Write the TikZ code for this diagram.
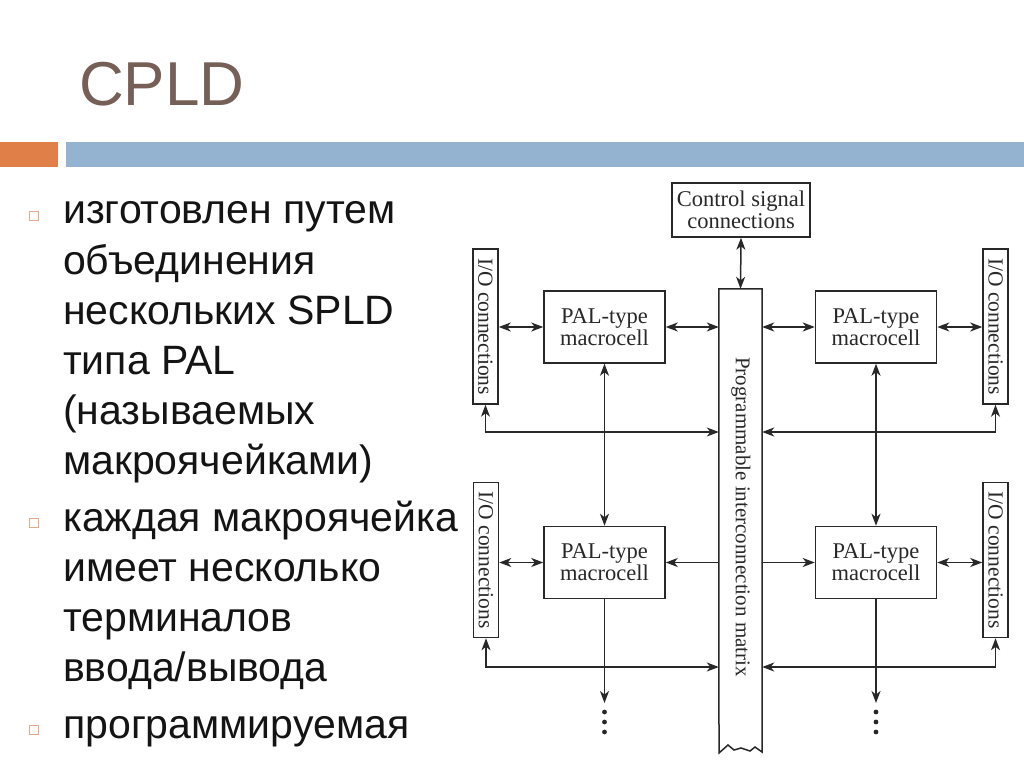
\documentclass[tikz,border=0pt]{standalone}
\usepackage{fontspec}
\setmainfont{Liberation Serif}
\newfontfamily\sansf{Liberation Sans}
\usetikzlibrary{arrows.meta}
\definecolor{titlecol}{RGB}{118,95,87}
\definecolor{barblue}{RGB}{148,179,209}
\definecolor{barorange}{RGB}{224,128,72}
\definecolor{bulletcol}{RGB}{230,170,135}
\definecolor{linecol}{RGB}{40,40,40}
\definecolor{textcol}{RGB}{20,20,20}
\tikzset{
  diag/.style={draw=linecol, line width=1.5pt, fill=white, inner sep=0pt, font=\fontsize{22.5}{25}\selectfont, text=linecol},
  palbox/.style={diag, minimum width=121pt, minimum height=72pt, align=center},
  iobox/.style={diag, minimum width=25pt, minimum height=155pt, font=\fontsize{21.5}{24}\selectfont},
  conn/.style={draw=linecol, line width=1.5pt, >={Stealth[length=12pt,width=9pt,inset=3.5pt]}},
  bul/.style={draw=bulletcol, line width=0.9pt, fill=white, minimum size=9pt, inner sep=0pt},
  btxt/.style={anchor=base west, inner sep=0pt, text=textcol, font=\sansf\fontsize{41}{48}\selectfont}
}
\begin{document}
\begin{tikzpicture}[x=1pt,y=-1pt]
\useasboundingbox (0,0) rectangle (1024,767);
\fill[white] (0,0) rectangle (1024,767);
% header
\node[anchor=base west, inner sep=0pt, text=titlecol, font=\sansf\fontsize{62}{66}\selectfont] (title) at (79,106) {CPLD};
\fill[barorange] (0,142) rectangle (58,167);
\fill[barblue] (66,142) rectangle (1024,167);
% bullets
\node[bul] (b1) at (34,216) {};
\node[bul] (b2) at (34,523) {};
\node[bul] (b3) at (34,730) {};
\node[btxt] (l1) at (63,224) {изготовлен путем};
\node[btxt] (l2) at (63,274) {объединения};
\node[btxt] (l3) at (63,324) {нескольких SPLD};
\node[btxt] (l4) at (63,374) {типа PAL};
\node[btxt] (l5) at (63,424) {(называемых};
\node[btxt] (l6) at (63,474) {макроячейками)};
\node[btxt] (l7) at (63,531) {каждая макроячейка};
\node[btxt] (l8) at (63,581) {имеет несколько};
\node[btxt] (l9) at (63,631) {терминалов};
\node[btxt] (l10) at (63,681) {ввода/вывода};
\node[btxt] (l11) at (63,738) {программируемая};
% diagram nodes
\node[diag, minimum width=138pt, minimum height=54pt, align=center] (ctrl) at (741,210) {Control signal\\[-3pt]connections};
\node[draw=none, inner sep=0pt, minimum width=43pt, minimum height=464pt] (mat) at (740.5,521) {};
\node[rotate=-90, inner sep=0pt, font=\fontsize{21}{24}\selectfont, text=linecol] (matlbl) at (741,517) {Programmable interconnection matrix};
\node[palbox] (palTL) at (604.5,327) {PAL-type\\[-3pt]macrocell};
\node[palbox] (palTR) at (876,327) {PAL-type\\[-3pt]macrocell};
\node[palbox] (palBL) at (604.5,562.5) {PAL-type\\[-3pt]macrocell};
\node[palbox] (palBR) at (876,562.5) {PAL-type\\[-3pt]macrocell};
\node[iobox] (ioTL) at (485.5,326.5) {\rotatebox{-90}{I/O connections}};
\node[iobox] (ioTR) at (995.5,326.5) {\rotatebox{-90}{I/O connections}};
\node[iobox] (ioBL) at (486,560) {\rotatebox{-90}{I/O connections}};
\node[iobox] (ioBR) at (995.5,560) {\rotatebox{-90}{I/O connections}};
% matrix outline with broken bottom
\draw[conn, line join=miter] (719,753) -- (mat.north west) -- (mat.north east) -- (762,752)
  -- (755,747) -- (750,751) -- (741,748) -- (734,750) -- (728,745) -- cycle;
\coordinate (y1) at (0,432);
\coordinate (y2) at (0,667);
\coordinate (endL) at (604.5,703);
\coordinate (endR) at (876,703);
% connectors
\draw[conn, <->] (ctrl.south) -- (mat.north);
\draw[conn, <->] (ioTL.east |- palTL.west) -- (palTL.west);
\draw[conn, <->] (palTL.east) -- (mat.west |- palTL.east);
\draw[conn, <->] (mat.east |- palTR.west) -- (palTR.west);
\draw[conn, <->] (palTR.east) -- (ioTR.west |- palTR.east);
\draw[conn, <->] (ioTL.south) |- (mat.west |- y1);
\draw[conn, <->] (mat.east |- y1) -| (ioTR.south);
\draw[conn, <->] (palTL.south) -- (palBL.north);
\draw[conn, <->] (palTR.south) -- (palBR.north);
\draw[conn, <->] (ioBL.east |- palBL.west) -- (palBL.west);
\draw[conn, ->] (mat.west |- palBL.east) -- (palBL.east);
\draw[conn, ->] (mat.east |- palBR.west) -- (palBR.west);
\draw[conn, <->] (palBR.east) -- (ioBR.west |- palBR.east);
\draw[conn, <->] (ioBL.south) |- (mat.west |- y2);
\draw[conn, <->] (mat.east |- y2) -| (ioBR.south);
\draw[conn, ->] (palBL.south) -- (endL);
\draw[conn, ->] (palBR.south) -- (endR);
\foreach \yy in {712,722,732} {
  \fill[linecol] (604.5,\yy) circle (2.4pt);
  \fill[linecol] (876,\yy) circle (2.4pt);
}
\end{tikzpicture}
\end{document}
